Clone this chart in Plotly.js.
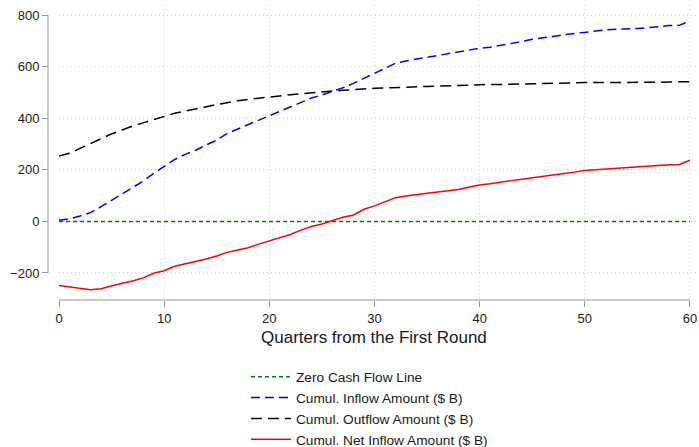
<!DOCTYPE html>
<html>
<head>
<meta charset="utf-8">
<script src="https://cdn.plot.ly/plotly-3.0.1.min.js"></script>
<style>html,body{margin:0;padding:0;background:#fff;}#chart{width:699px;height:447px;}</style>
</head>
<body>
<div id="chart"></div>
<script>
var quarters = [];
for (var i = 0; i <= 60; i++) quarters.push(i);

var zeroLine = [0,0,0,0,0,0,0,0,0,0,0,0,0,0,0,0,0,0,0,0,0,0,0,0,0,0,0,0,0,0,0,0,0,0,0,0,0,0,0,0,0,0,0,0,0,0,0,0,0,0,0,0,0,0,0,0,0,0,0,0,0];

var inflow = [4,10,21,34,57,81,106,130,156,186,212,240,260,276,296,315,341,358,376,393,
  408,425,442,461,478,490,503,518,535,555,574,593,613,622,629,636,642,649,655,664,
  671,675,682,690,697,706,711,717,724,729,733,738,742,745,746,748,751,756,759,760,777];

var outflow = [253,264,283,302,322,339,354,370,382,395,406,419,428,435,444,453,461,468,473,478,
  482,487,491,495,499,501,505,508,511,514,516,517,519,520,522,523,524,526,527,528,
  530,531,531,532,534,534,535,536,536,537,538,538,538,539,539,539,540,540,540,541,541];

var netInflow = [-248,-254,-261,-265,-261,-249,-240,-231,-219,-201,-191,-174,-165,-156,-146,-134,-120,-111,-102,-88,
  -76,-64,-51,-34,-20,-10,3,16,25,47,60,76,92,98,105,109,114,119,124,133,
  141,146,153,158,163,169,176,181,186,191,197,200,203,206,208,211,213,217,220,221,237];

var xTicks = [0,10,20,30,40,50,60];
var yTicks = [-200,0,200,400,600,800];
var xTitle = 'Quarters from the First Round';

var FONT = 'Arial, "Liberation Sans", Helvetica, sans-serif';

var traces = [
  {x: quarters, y: zeroLine, name: 'Zero Cash Flow Line', mode: 'lines', legendgroup: 'a',
   line: {color: '#008000', width: 1.5, dash: '4px,3px'}},
  {x: quarters, y: inflow, name: 'Cumul. Inflow Amount ($ B)', mode: 'lines', legendgroup: 'b',
   line: {color: '#0000ff', width: 1.5, dash: '9px,5px'}},
  {x: quarters, y: outflow, name: 'Cumul. Outflow Amount ($ B)', mode: 'lines', legendgroup: 'c',
   line: {color: '#000000', width: 1.5, dash: '11px,6px'}},
  {x: quarters, y: netInflow, name: 'Cumul. Net Inflow Amount ($ B)', mode: 'lines', legendgroup: 'd',
   line: {color: '#ff0000', width: 1.5}}
];

var layout = {
  width: 699, height: 447,
  margin: {l: 48, r: 2, t: 5, b: 147, pad: 0, autoexpand: false},
  paper_bgcolor: '#ffffff', plot_bgcolor: '#ffffff',
  font: {family: FONT, color: '#1a1a1a', size: 13},
  showlegend: true,
  legend: {
    x: 0.305, xanchor: 'left', y: -0.208, yanchor: 'top',
    orientation: 'v', traceorder: 'normal', tracegroupgap: 3,
    itemwidth: 40,
    font: {family: FONT, size: 13.7, color: '#1a1a1a'},
    bgcolor: 'rgba(0,0,0,0)', borderwidth: 0
  },
  xaxis: {
    domain: [0.01695, 1],
    range: [0, 60.67],
    tickvals: xTicks,
    ticks: 'outside', ticklen: 6, tickcolor: '#999999', tickwidth: 1,
    showline: false, zeroline: false,
    showgrid: true, gridcolor: '#cfcfcf', gridwidth: 1, griddash: '1px,3px',
    tickfont: {family: FONT, size: 13, color: '#1a1a1a'}
  },
  yaxis: {
    anchor: 'free', position: 0,
    range: [-304.7, 838.8],
    tickvals: yTicks,
    ticks: 'outside', ticklen: 6, tickcolor: '#999999', tickwidth: 1,
    showline: false, zeroline: false,
    showgrid: true, gridcolor: '#cfcfcf', gridwidth: 1, griddash: '1px,3px',
    tickfont: {family: FONT, size: 13, color: '#1a1a1a'}
  },
  annotations: [
    {text: xTitle, xref: 'x', yref: 'paper', x: 30, y: -0.1288, xanchor: 'center', yanchor: 'middle',
     showarrow: false, font: {family: FONT, size: 17, color: '#1a1a1a'}}
  ],
  shapes: [
    {type: 'line', xref: 'paper', yref: 'y', x0: 0, x1: 0, y0: -200, y1: 800,
     line: {color: '#999999', width: 1}},
    {type: 'line', xref: 'x', yref: 'paper', x0: 0, x1: 60, y0: 0, y1: 0,
     line: {color: '#999999', width: 1}}
  ]
};

Plotly.newPlot('chart', traces, layout, {displayModeBar: false, staticPlot: true});
</script>
</body>
</html>
